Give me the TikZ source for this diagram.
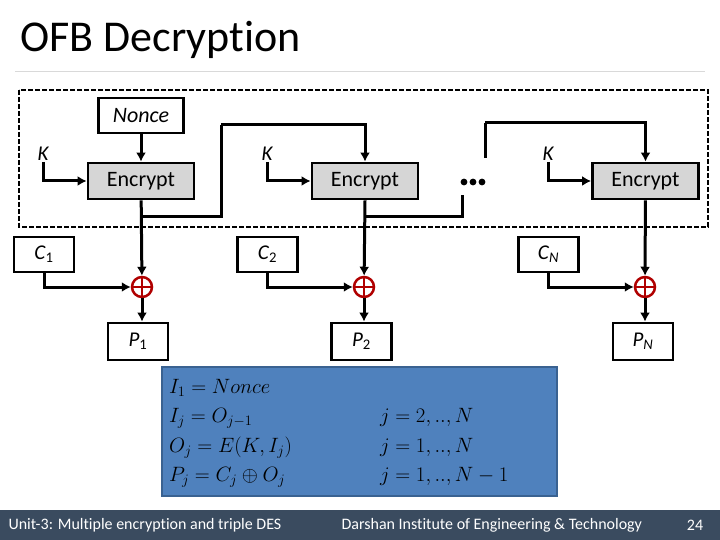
\documentclass[tikz,border=0pt]{standalone}
\usepackage{fontspec}
\setmainfont{Carlito}[Ligatures=NoCommon]
\usepackage{tikz}
\usetikzlibrary{arrows.meta, calc, positioning}
\definecolor{xorred}{HTML}{B00000}
\definecolor{boxgray}{HTML}{D6D6D6}
\definecolor{eqblue}{HTML}{4F81BD}
\definecolor{eqborder}{HTML}{3A6291}
\definecolor{footbar}{HTML}{3A4B5F}
\tikzstyle{flowbox} = [draw, line width=2.8pt, inner sep=0pt, text centered, font=\fontsize{22}{26}\selectfont]
\tikzstyle{encbox} = [flowbox, rectangle, fill=boxgray, minimum width=106pt, minimum height=36pt]
\tikzstyle{databox} = [flowbox, rectangle, fill=white, minimum width=60pt, minimum height=35pt, font=\fontsize{21}{25}\selectfont]
\tikzstyle{keylabel} = [inner sep=1pt, font=\fontsize{21}{25}\selectfont\itshape]
\tikzstyle{xorop} = [circle, draw=xorred, line width=2.5pt, minimum size=20pt, inner sep=0pt,
path picture={\draw[xorred, line width=2.5pt] (path picture bounding box.north) -- (path picture bounding box.south)
(path picture bounding box.west) -- (path picture bounding box.east);}]
\tikzstyle{flowline} = [line width=3pt]
\tikzstyle{flowarrow} = [->, flowline, >={Latex[length=9pt,width=10pt]}]
\begin{document}
\begin{tikzpicture}[x=1pt, y=-1pt]
		\useasboundingbox (0,0) rectangle (720,540);
		% title
		\node (title) [anchor=west, font=\fontsize{44}{48}\selectfont] at (17,40) {OFB Decryption};
		\draw [gray!30, line width=1pt] (15,72) -- (705,72);
		% dashed group
		\draw [line width=2.4pt, dash pattern=on 5pt off 2pt] (19,90) rectangle (708,227);
		% first stage
		\node (nonce) [flowbox, minimum width=85pt, minimum height=35pt, font=\fontsize{22}{26}\selectfont\itshape] at (141,115.5) {Nonce};
		\node (enc1) [encbox] at (141,181) {Encrypt};
		\node (k1) [keylabel] at (43,154) {K};
		\node (c1) [databox] at (44,254.5) {\textit{C}\textsubscript{1}};
		\node (xor1) [xorop] at (142,287) {};
		\node (p1) [databox, minimum height=37pt] at (138,341.5) {\textit{P}\textsubscript{1}};
		% second stage
		\node (enc2) [encbox] at (365,181) {Encrypt};
		\node (k2) [keylabel] at (267,154) {K};
		\node (c2) [databox] at (267.5,254.5) {\textit{C}\textsubscript{2}};
		\node (xor2) [xorop] at (364,287) {};
		\node (p2) [databox, minimum height=37pt] at (361.5,341.5) {\textit{P}\textsubscript{2}};
		% last stage
		\node (encN) [encbox] at (645.5,181) {Encrypt};
		\node (kN) [keylabel] at (548,154) {K};
		\node (cN) [databox] at (548.5,254.5) {\textit{C}\textsubscript{\textit{N}}};
		\node (xorN) [xorop] at (645,287) {};
		\node (pN) [databox, minimum height=37pt] at (643,341.5) {\textit{P}\textsubscript{\textit{N}}};
		% dots
		\foreach \x in {464,473,482}
			\fill (\x,182) circle (3.4pt);
		\coordinate (tap1) at (142,217);
		\coordinate (bend1) at (221,125);
		\coordinate (tap2) at (364,217);
		\coordinate (cut2) at (462,195);
		\coordinate (cutN) at (485,158);
		\coordinate (bendN) at (485,123);
		% connectors
		\draw [flowarrow] (nonce) -- (enc1);
		\draw [flowarrow] (k1.south) |- (enc1);
		\draw [flowarrow] (enc1) -- (xor1);
		\draw [flowline] (tap1) -| (bend1);
		\draw [flowarrow] (bend1) -| (enc2);
		\draw [flowarrow] (c1.south) |- (xor1);
		\draw [flowarrow] (xor1) -- (xor1 |- p1.north);
		\draw [flowarrow] (k2.south) |- (enc2);
		\draw [flowarrow] (enc2.south) -- (xor2);
		\draw [flowline] (tap2) -| (cut2);
		\draw [flowarrow] (c2.south) |- (xor2);
		\draw [flowarrow] (xor2) -- (xor2 |- p2.north);
		\draw [flowline] (cutN) -- (bendN);
		\draw [flowarrow] (bendN) -| (encN);
		\draw [flowarrow] (kN.south) |- (encN);
		\draw [flowarrow] (encN) -- (xorN);
		\draw [flowarrow] (cN.south) |- (xorN);
		\draw [flowarrow] (xorN) -- (xorN |- pN.north);
		% equations
		\node (eqs) [draw=eqborder, line width=1.5pt, fill=eqblue, minimum width=395pt, minimum height=129pt,
		inner sep=0pt, font=\fontsize{22}{29.5}\selectfont] at (359.5,431.5) {
			\begin{tabular}{@{}p{211pt}@{}p{170pt}@{}}
				$I_1 = Nonce$ & \\
				$I_j = O_{j-1}$ & $j = 2,..,N$ \\
				$O_j = E(K, I_j)$ & $j = 1,..,N$ \\
				$P_j = C_j \oplus O_j$ & $j = 1,..,N - 1$
			\end{tabular}};
		% footer
		\fill [footbar] (0,510) rectangle (720,540);
		\node (unit) [anchor=west, text=white, font=\fontsize{16}{18}\selectfont] at (5,525) {Unit-3: Multiple encryption and triple DES};
		\node (inst) [anchor=west, text=white, font=\fontsize{16}{18}\selectfont] at (338,525) {Darshan Institute of Engineering \& Technology};
		\node (page) [text=white, font=\fontsize{16}{18}\selectfont] at (695,525) {24};
	\end{tikzpicture}
\end{document}
